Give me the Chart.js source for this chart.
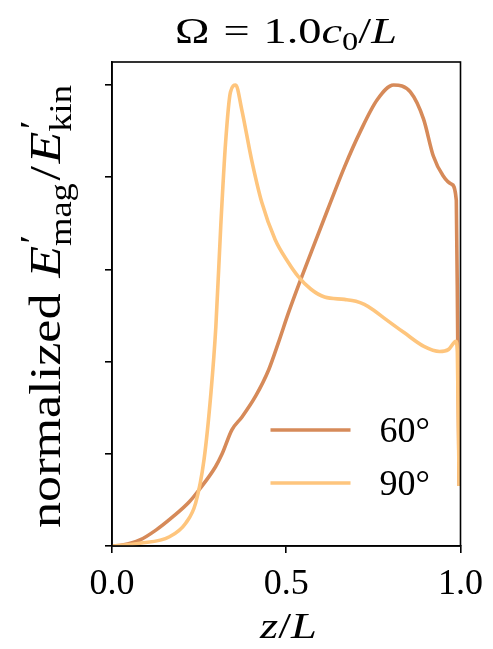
<!DOCTYPE html>
<html>
<head>
<meta charset="utf-8">
<script src="https://cdn.jsdelivr.net/npm/chart.js@4/dist/chart.umd.min.js"></script>
<style>
  body { margin: 0; background: #fff; }
</style>
</head>
<body>
<canvas id="chart" width="493" height="649"></canvas>
<script>
// data
const seriesLabels = ["60°", "90°"];
const seriesColors = ["#d68a59", "#fec57d"];

const z60 = [0, 0.03, 0.08, 0.127, 0.174, 0.222, 0.25, 0.297, 0.316, 0.344, 0.373, 0.412, 0.45, 0.477, 0.506, 0.54, 0.572, 0.619, 0.667, 0.713, 0.761, 0.808, 0.856, 0.894, 0.922, 0.95, 0.974, 0.988, 0.992, 0.996];
const e60 = [0, 0.002, 0.013, 0.035, 0.063, 0.096, 0.122, 0.172, 0.2, 0.252, 0.28, 0.325, 0.383, 0.44, 0.505, 0.575, 0.638, 0.73, 0.822, 0.9, 0.968, 1.0, 0.985, 0.926, 0.846, 0.803, 0.785, 0.75, 0.45, 0.13];

const z90 = [0, 0.08, 0.165, 0.212, 0.24, 0.264, 0.284, 0.298, 0.312, 0.326, 0.34, 0.355, 0.372, 0.4, 0.43, 0.468, 0.506, 0.534, 0.571, 0.61, 0.667, 0.7, 0.724, 0.75, 0.78, 0.838, 0.895, 0.94, 0.965, 0.987, 0.991, 0.996];
const e90 = [0, 0.006, 0.02, 0.05, 0.093, 0.187, 0.333, 0.476, 0.693, 0.876, 0.985, 1.0, 0.948, 0.84, 0.745, 0.665, 0.615, 0.585, 0.557, 0.54, 0.535, 0.531, 0.524, 0.512, 0.495, 0.463, 0.433, 0.422, 0.426, 0.444, 0.42, 0.13];

const xTicks = [0, 0.5, 1.0];
const yTicks = [0, 0.2, 0.4, 0.6, 0.8, 1.0];

const SERIF = '"Liberation Serif", "Times New Roman", serif';

Chart.defaults.color = "#000";

function toPoints(xs, ys) {
  return xs.map((x, i) => ({ x: x, y: ys[i] }));
}

// draws a run of text pieces (italic, sub/superscripts), stretched to a given width
function drawRich(ctx, parts, size, x, y, width) {
  const fontFor = p => (p.it ? "italic " : "") + (size * (p.s || 1)) + "px " + SERIF;
  let total = 0;
  parts.forEach(p => {
    if (p.gap) { total += p.gap * size; return; }
    ctx.font = fontFor(p);
    if (!p.stack) total += ctx.measureText(p.t).width;
  });
  const k = width ? width / total : 1;
  ctx.save();
  ctx.translate(x, y);
  ctx.scale(k, 1);
  ctx.textBaseline = "alphabetic";
  ctx.textAlign = "left";
  ctx.fillStyle = "#000";
  let cx = 0;
  parts.forEach(p => {
    if (p.gap) { cx += p.gap * size; return; }
    ctx.font = fontFor(p);
    ctx.fillText(p.t, cx + (p.dx || 0) * size, (p.dy || 0) * size);
    if (!p.stack) cx += ctx.measureText(p.t).width;
  });
  ctx.restore();
}

const decor = {
  id: "decor",
  afterDatasetsDraw(chart) {
    const ctx = chart.ctx;
    const a = chart.chartArea;
    ctx.save();
    ctx.strokeStyle = "#000";
    ctx.lineWidth = 1.6;
    ctx.strokeRect(a.left, a.top, a.right - a.left, a.bottom - a.top);

    // legend inside the plot, lower right
    ctx.lineWidth = 3.6;
    ctx.lineCap = "butt";
    seriesLabels.forEach((lab, i) => {
      const ly = a.bottom - 116 + i * 53;
      ctx.strokeStyle = seriesColors[i];
      ctx.beginPath();
      ctx.moveTo(a.right - 190, ly);
      ctx.lineTo(a.right - 110, ly);
      ctx.stroke();
      ctx.fillStyle = "#000";
      ctx.font = "36px " + SERIF;
      ctx.textBaseline = "alphabetic";
      ctx.fillText(lab, a.right - 81, ly + 12);
    });
    ctx.restore();
  },
  afterDraw(chart) {
    const ctx = chart.ctx;
    // title
    drawRich(ctx, [
      { t: "Ω" }, { gap: 0.3 }, { t: "=" }, { gap: 0.3 }, { t: "1.0" },
      { t: "c", it: true }, { t: "0", s: 0.7, dy: 0.2 }, { t: "/" }, { t: "L", it: true }
    ], 35, 175, 43, 222);

    // x label
    drawRich(ctx, [{ t: "z", it: true }, { t: "/" }, { t: "L", it: true }], 36, 260, 638, 57);

    // y label, rotated
    ctx.save();
    ctx.translate(60, 528);
    ctx.rotate(-Math.PI / 2);
    drawRich(ctx, [
      { t: "normalized" }, { gap: 0.3 },
      { t: "E", it: true }, { t: "′", s: 0.75, dy: -0.38, dx: 0.05, stack: true },
      { t: "mag", s: 0.7, dy: 0.24 }, { gap: 0.05 }, { t: "/" }, { gap: 0.05 },
      { t: "E", it: true }, { t: "′", s: 0.75, dy: -0.38, dx: 0.05, stack: true },
      { t: "kin", s: 0.7, dy: 0.24 }
    ], 44, 0, 0, 443);
    ctx.restore();
  }
};

new Chart(document.getElementById("chart"), {
  type: "line",
  data: {
    datasets: [
      {
        label: seriesLabels[0],
        data: toPoints(z60, e60),
        borderColor: seriesColors[0],
        borderWidth: 3.6,
        pointRadius: 0,
        cubicInterpolationMode: "monotone",
        order: 2
      },
      {
        label: seriesLabels[1],
        data: toPoints(z90, e90),
        borderColor: seriesColors[1],
        borderWidth: 3.6,
        pointRadius: 0,
        cubicInterpolationMode: "monotone",
        order: 1
      }
    ]
  },
  options: {
    responsive: false,
    animation: false,
    layout: { padding: { left: 0, top: 62, right: 29, bottom: 0 } },
    plugins: { legend: { display: false }, tooltip: { enabled: false } },
    scales: {
      x: {
        type: "linear",
        min: 0,
        max: 1,
        afterBuildTicks: s => { s.ticks = xTicks.map(v => ({ value: v })); },
        afterFit: s => { s.height = 103; },
        ticks: {
          font: { family: SERIF, size: 36 },
          padding: 10,
          maxRotation: 0,
          callback: v => v.toFixed(1)
        },
        grid: { drawOnChartArea: false, tickLength: 7, color: "#000", lineWidth: 1.6 },
        border: { color: "#000", width: 1.6 }
      },
      y: {
        type: "linear",
        min: 0,
        max: 1.05,
        afterBuildTicks: s => { s.ticks = yTicks.map(v => ({ value: v })); },
        afterFit: s => { s.width = 112; },
        ticks: { display: false },
        grid: { drawOnChartArea: false, tickLength: 7, color: "#000", lineWidth: 1.6 },
        border: { color: "#000", width: 1.6 }
      }
    }
  },
  plugins: [decor]
});
</script>
</body>
</html>
